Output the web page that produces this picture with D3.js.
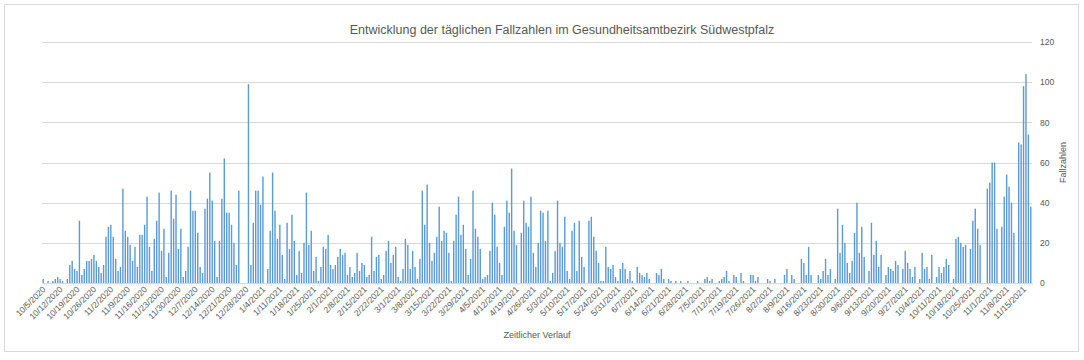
<!DOCTYPE html>
<html><head><meta charset="utf-8">
<script src="https://cdn.jsdelivr.net/npm/d3@7"></script>
<style>
body{margin:0;background:#fff;}
svg{display:block;font-family:"Liberation Sans",Arial,sans-serif;}
</style>
</head><body>
<svg id="chart" width="1084" height="360"></svg>
<script>
const titleText = "Entwicklung der täglichen Fallzahlen im Gesundheitsamtbezirk Südwestpfalz";
const xTitle = "Zeitlicher Verlauf";
const yTitle = "Fallzahlen";
const firstDay = "2020-10-05";
const yTicks = [0, 20, 40, 60, 80, 100, 120];
const labelStep = 7;

// daily case numbers, in date order
const cases1 = [2,0,1,0,1,2,3,2,1,0, 2,9,11,7,6,31,4,7,11,11, 12,14,11,8,5,9,23,28,29,23, 12,6,8,47,26,23];
const cases2 = [19,11,18,8,24,24,29,43,18,6, 22,31,45,16,27,3,15,46,32,44, 17,27,3,6,18,46,36,36,25,8, 5,37,42,55,41,21,3];
const cases3 = [21,42,62,35,35,29,20,9,46,0, 0,0,99,9,30,46,46,39,53,0, 7,26,55,36,22,29,14,2,30,17, 34,21,4,16,5,20,45,19];
const cases4 = [26,6,13,1,8,18,17,24,9,7, 9,13,17,14,15,4,8,3,5,15, 6,10,9,3,4,23,6,13,14,2, 4,16,21,10,14,18,3];
const cases5 = [1,7,22,19,7,16,8,2,12,46, 29,49,20,11,15,23,38,21,26,25, 15,1,21,34,43,24,29,17,4,12, 46,27,23,17,2,3,4];
const cases6 = [16,40,34,18,10,4,28,41,35,57, 26,19,0,25,41,30,28,43,15,8, 20,36,35,21,36,1,5,16,41,20, 18,33,6,2,26,30,6];
const cases7 = [31,13,8,0,31,33,23,16,10,1, 1,18,8,7,9,3,1,7,10,7, 2,6,1,0,8,5,4,3,5,2, 0,0,5,4,7,2,0,2];
const cases8 = [1,0,1,0,1,0,0,1,0,0, 0,1,0,0,2,3,1,2,0,0, 1,2,3,6,1,0,4,3,0,5, 1,0,0,4,4,1];
const cases9 = [3,0,0,0,2,1,0,2,0,0, 0,4,7,0,4,2,0,0,12,10, 4,18,4,0,0,4,2,6,12,4, 7,0,2,37,15,29,20,10];
const cases10 = [5,11,25,40,15,28,13,0,6,30, 14,21,8,14,0,4,8,7,6,11, 9,0,7,16,10,7,3,8,0,2, 15,7,8,2,14,0,3];
const cases11 = [8,5,8,12,9,0,2,22,23,20, 18,19,0,17,31,37,27,19,0,0, 47,50,60,60,27,0,28,43,54,48, 40,25,0,70,69,98,104,74,38];

const values = [].concat(cases1, cases2, cases3, cases4, cases5, cases6, cases7, cases8, cases9, cases10, cases11);
const start = d3.timeParse("%Y-%m-%d")(firstDay);
const dates = values.map((v, i) => d3.timeDay.offset(start, i));
const fmt = d3.timeFormat("%-m/%-d/%Y");
const data = values.map((v, i) => ({i, date: dates[i], v}));

const svg = d3.select("#chart");
const W = 1084, H = 360;
const plot = {left: 42, right: 1032, top: 42, bottom: 283};

// chart border
svg.append("rect").attr("x", 4.5).attr("y", 4.5).attr("width", 1074).attr("height", 347)
  .attr("fill", "#fff").attr("stroke", "#d9d9d9").attr("stroke-width", 1);

const x = d3.scaleBand().domain(d3.range(values.length)).range([plot.left, plot.right]).paddingInner(0.42).paddingOuter(0.21);
const y = d3.scaleLinear().domain([0, 120]).range([plot.bottom, plot.top]);

// gridlines
svg.append("g").selectAll("line").data(yTicks.filter(d => d > 0)).join("line")
  .attr("x1", plot.left).attr("x2", plot.right)
  .attr("y1", d => Math.round(y(d)) + 0.5).attr("y2", d => Math.round(y(d)) + 0.5)
  .attr("stroke", "#d9d9d9").attr("stroke-width", 1);

// bars
svg.append("g").selectAll("rect").data(data).join("rect")
  .attr("x", d => x(d.i)).attr("width", x.bandwidth())
  .attr("y", d => y(d.v)).attr("height", d => y(0) - y(d.v))
  .attr("fill", "#5b9bd5");

// x axis line and ticks
const xAxis = d3.axisBottom(x).tickValues(d3.range(0, values.length, labelStep)).tickSize(0).tickFormat("");
const gx = svg.append("g").attr("transform", `translate(0,${plot.bottom})`).call(xAxis);
gx.select(".domain").attr("stroke", "#d9d9d9");
svg.append("g").selectAll("line").data(d3.range(values.length + 1)).join("line")
  .attr("x1", d => plot.left + d * (plot.right - plot.left) / values.length)
  .attr("x2", d => plot.left + d * (plot.right - plot.left) / values.length)
  .attr("y1", plot.bottom).attr("y2", plot.bottom + 3)
  .attr("stroke", "#d9d9d9").attr("stroke-width", 0.5);

// x labels
svg.append("g").selectAll("text").data(d3.range(0, values.length, labelStep)).join("text")
  .attr("transform", d => `translate(${x(d) + x.bandwidth() / 2 + 3},${plot.bottom + 7}) rotate(-45)`)
  .attr("text-anchor", "end").attr("font-size", 8.5).attr("fill", "#595959")
  .text(d => fmt(dates[d]));

// y axis labels (right)
const yAxis = d3.axisRight(y).tickValues(yTicks).tickSize(0).tickPadding(8);
const gy = svg.append("g").attr("transform", `translate(${plot.right},0)`).call(yAxis);
gy.select(".domain").remove();
gy.selectAll("text").attr("font-size", 8.5).attr("fill", "#595959").attr("font-family", "Liberation Sans, Arial, sans-serif");

// titles
svg.append("text").attr("x", 562).attr("y", 34).attr("text-anchor", "middle")
  .attr("font-size", 12.5).attr("fill", "#595959").text(titleText);
svg.append("text").attr("x", (plot.left + plot.right) / 2).attr("y", 338).attr("text-anchor", "middle")
  .attr("font-size", 9).attr("fill", "#595959").text(xTitle);
svg.append("text").attr("transform", `translate(1066,${(plot.top + plot.bottom) / 2}) rotate(-90)`)
  .attr("text-anchor", "middle").attr("font-size", 9).attr("fill", "#595959").text(yTitle);
</script>
</body></html>
